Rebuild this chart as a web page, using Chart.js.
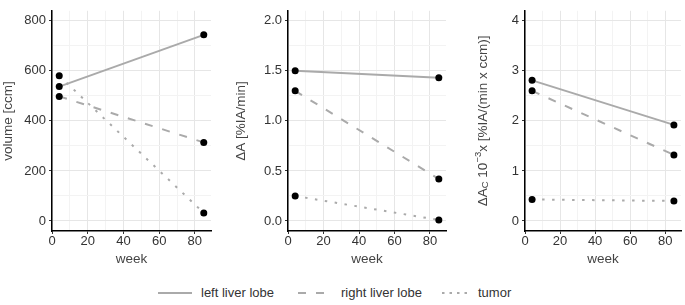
<!DOCTYPE html>
<html>
<head>
<meta charset="utf-8">
<script src="https://cdn.jsdelivr.net/npm/chart.js@4/dist/chart.umd.min.js"></script>
<style>
  body { margin: 0; background: #fff; width: 685px; height: 305px; position: relative; overflow: hidden; }
  canvas { position: absolute; top: 0; }
  #legend { position: absolute; top: 284px; left: 0; width: 685px; height: 18px;
            font: 13px "Liberation Sans", Arial, sans-serif; color: #333; }
  #legend svg, #legend span { position: absolute; }
  #legend span { top: 1px; }
</style>
</head>
<body>
<canvas id="c1" width="215" height="270" style="left:0px"></canvas>
<canvas id="c2" width="222" height="270" style="left:228px"></canvas>
<canvas id="c3" width="229" height="270" style="left:456px"></canvas>

<div id="legend">
  <svg width="36" height="18" style="left:157px;top:0"><line x1="1" y1="9" x2="35" y2="9" stroke="#aaa" stroke-width="2"/></svg>
  <span style="left:201px">left liver lobe</span>
  <svg width="30" height="18" style="left:297px;top:0"><line x1="1" y1="9" x2="27" y2="9" stroke="#aaa" stroke-width="2" stroke-dasharray="8 10"/></svg>
  <span style="left:341px">right liver lobe</span>
  <svg width="30" height="18" style="left:441px;top:0"><line x1="1" y1="9" x2="28" y2="9" stroke="#aaa" stroke-width="2" stroke-dasharray="2.5 5"/></svg>
  <span style="left:478px">tumor</span>
</div>

<script>
// weeks after treatment, shared by all panels
const weeks = [4, 85];
const seriesNames = ["left liver lobe", "right liver lobe", "tumor"];

// panel 1: volume [ccm]
const volumeLeft  = [537, 744];
const volumeRight = [498, 314];
const volumeTumor = [580, 32];

// panel 2: ΔA [%IA/min]
const deltaALeft  = [1.50, 1.43];
const deltaARight = [1.30, 0.42];
const deltaATumor = [0.25, 0.01];

// panel 3: ΔA_C 10^-3 x [%IA/(min x ccm)]
const deltaACLeft  = [2.81, 1.92];
const deltaACRight = [2.60, 1.32];
const deltaACTumor = [0.43, 0.40];

// axis ticks (major labelled, minor only gridlines)
const xTicks  = [0, 10, 20, 30, 40, 50, 60, 70, 80];
const xMajor  = 20;
const yTicks1 = [0, 100, 200, 300, 400, 500, 600, 700, 800];
const yTicks2 = [0, 0.25, 0.5, 0.75, 1, 1.25, 1.5, 1.75, 2];
const yTicks3 = [0, 0.5, 1, 1.5, 2, 2.5, 3, 3.5, 4];

const FONT = "'Liberation Sans', Arial, sans-serif";
const TICK_SIZE = 13;
const TITLE_SIZE = 13.5;
const LINE = "#aaaaaa";
const dashes = [[], [8, 10], [2.5, 7.5]];

const isMajor = (v, step) => Math.abs(v / step - Math.round(v / step)) < 1e-6;

function makeDatasets(values) {
  return values.map((vals, i) => ({
    label: seriesNames[i],
    data: weeks.map((w, j) => ({ x: w, y: vals[j] })),
    borderColor: LINE,
    borderWidth: 2,
    borderDash: dashes[i],
    pointRadius: 3.5,
    pointBackgroundColor: "#000",
    pointBorderColor: "#000",
    pointBorderWidth: 0,
    tension: 0,
  }));
}

function axisCommon(ticks, step) {
  return {
    afterBuildTicks: s => { s.ticks = ticks.map(v => ({ value: v })); },
    grid: {
      color: c => isMajor(c.tick.value, step) ? "#e6e6e6" : "#f3f3f3",
      lineWidth: 1,
      tickLength: 3,
      tickColor: c => isMajor(c.tick.value, step) ? "#333" : "rgba(0,0,0,0)",
      tickWidth: 1,
    },
    border: { display: true, color: "#000", width: 1.5 },
  };
}

function makePanel(id, values, yMin, yMax, yTicks, yStep, fmt, yTitle, yWidth, titlePad, padRight) {
  const x = axisCommon(xTicks, xMajor);
  const y = axisCommon(yTicks, yStep);
  return new Chart(document.getElementById(id), {
    type: "line",
    data: { datasets: makeDatasets(values) },
    options: {
      responsive: false, animation: false, devicePixelRatio: 1,
      layout: { padding: { top: 4, right: padRight, left: 0, bottom: 0 } },
      plugins: { legend: { display: false }, tooltip: { enabled: false } },
      scales: {
        x: Object.assign(x, {
          type: "linear", min: -0.05, max: 89.05,
          afterFit: s => { s.height = 39; },
          ticks: { color: "#333", font: { family: FONT, size: TICK_SIZE }, padding: 0, maxRotation: 0,
                   callback: v => isMajor(v, xMajor) ? v : "" },
          title: { display: true, text: "week", color: "#444", font: { family: FONT, size: TITLE_SIZE },
                   padding: { top: 0, bottom: 3 } },
        }),
        y: Object.assign(y, {
          type: "linear", min: yMin, max: yMax,
          afterFit: s => { s.width = yWidth; },
          ticks: { color: "#333", font: { family: FONT, size: TICK_SIZE }, padding: 3,
                   callback: v => isMajor(v, yStep) ? fmt(v) : "" },
          title: { display: !!yTitle, text: yTitle, color: "#444", font: { family: FONT, size: TITLE_SIZE },
                   padding: { top: titlePad, bottom: 0 } },
        }),
      },
    },
    plugins: id === "c3" ? [subTitlePlugin] : [],
  });
}

// y title of panel 3 needs a subscript and a superscript
const subTitlePlugin = {
  id: "subTitle",
  afterDraw(chart) {
    const ctx = chart.ctx;
    const parts = [
      { t: "ΔA", s: TITLE_SIZE, dy: 0 },
      { t: "C", s: 9.5, dy: 2.5 },
      { t: " 10", s: TITLE_SIZE, dy: 0 },
      { t: "−3", s: 9.5, dy: -5 },
      { t: "x [%IA/(min x ccm)]", s: TITLE_SIZE, dy: 0 },
    ];
    ctx.save();
    ctx.translate(27, (chart.chartArea.top + chart.chartArea.bottom) / 2);
    ctx.rotate(-Math.PI / 2);
    ctx.fillStyle = "#444";
    ctx.textBaseline = "middle";
    let total = 0;
    parts.forEach(p => { ctx.font = p.s + "px " + FONT; p.w = ctx.measureText(p.t).width; total += p.w; });
    let x0 = -total / 2;
    parts.forEach(p => { ctx.font = p.s + "px " + FONT; ctx.fillText(p.t, x0, p.dy); x0 += p.w; });
    ctx.restore();
  }
};

makePanel("c1", [volumeLeft, volumeRight, volumeTumor], -40, 840, yTicks1, 200,
          v => v, "volume [ccm]", 52, 0, 4);
makePanel("c2", [deltaALeft, deltaARight, deltaATumor], -0.1, 2.1, yTicks2, 0.5,
          v => v.toFixed(1), "ΔA [%IA/min]", 60, 5, 3);
makePanel("c3", [deltaACLeft, deltaACRight, deltaACTumor], -0.2, 4.2, yTicks3, 1,
          v => v, "", 69, 0, 1);
</script>
</body>
</html>
